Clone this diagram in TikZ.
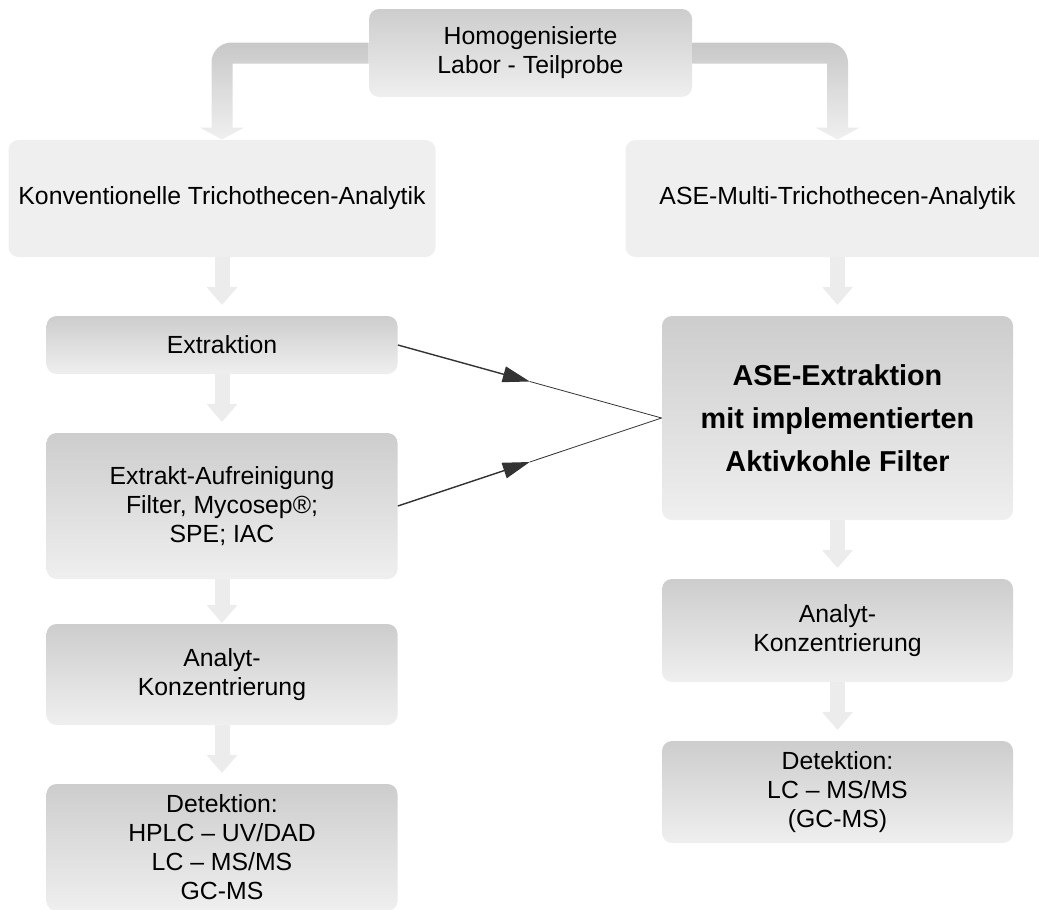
\documentclass[tikz,border=0pt]{standalone}
\usepackage{fontspec}
\setmainfont{Liberation Sans}
\usepackage{xcolor}
\usepackage{tikz}
\usetikzlibrary{arrows.meta,calc}

\definecolor{boxtop}{HTML}{CDCDCD}
\definecolor{boxbot}{HTML}{EFEFEF}
\definecolor{boxflat}{HTML}{EFEFEF}
\definecolor{flowgray}{HTML}{ECECEC}
\definecolor{bandtop}{HTML}{C8C8C8}
\definecolor{bandbot}{HTML}{F0F0F0}
\definecolor{linegray}{HTML}{333333}

\tikzset{
  stage/.style={rounded corners=5pt, top color=boxtop, bottom color=boxbot,
    align=center, inner sep=2pt, minimum width=175.5pt,
    font=\fontsize{12.4}{14.5}\selectfont},
  branch/.style={rounded corners=5pt, fill=boxflat, align=center, inner sep=2pt,
    minimum height=58.5pt, font=\fontsize{12.4}{14.5}\selectfont},
  flow/.style={line width=7.5pt, draw=flowgray,
    -{Triangle[width=15.5pt,length=9pt,line width=0.5pt,round]},
    shorten >=5.5pt},
  band/.style={top color=bandtop, bottom color=bandbot},
  feedin/.style={draw=linegray, line width=0.7pt,
    -{Triangle[width=8pt,length=13.5pt,fill=linegray]}},
  feedout/.style={draw=linegray, line width=0.4pt}
}

\begin{document}
\begin{tikzpicture}[x=0.5pt,y=-0.5pt]
\useasboundingbox (0,0) rectangle (1039,910);

% Sample at the top
\node[stage, minimum width=161.5pt, minimum height=44pt] (probe) at (530.5,53) {Homogenisierte\\Labor - Teilprobe};

% The two branches
\node[branch, minimum width=213.5pt] (konv) at (222,198.5) {Konventionelle Trichothecen-Analytik};
\node[branch, minimum width=212pt] (multi) at (837.5,198.5) {ASE-Multi-Trichothecen-Analytik};

% Conventional route
\node[stage, minimum height=29pt] (ext) at (222,345) {Extraktion};
\node[stage, minimum height=73pt] (clean) at (222,506) {Extrakt-Aufreinigung\\Filter, Mycosep®;\\SPE; IAC};
\node[stage, minimum height=50.5pt] (konzL) at (222,674.5) {Analyt-\\Konzentrierung};
\node[stage, minimum height=63.5pt] (detL) at (222,847.5) {Detektion:\\HPLC – UV/DAD\\LC – MS/MS\\GC-MS};

% ASE route
\node[stage, minimum height=102pt, font=\fontsize{14.4}{21.5}\selectfont\bfseries] (ase) at (837.5,418) {ASE-Extraktion\\mit implementierten\\Aktivkohle Filter};
\node[stage, minimum height=51.5pt] (konzR) at (837.5,630.5) {Analyt-\\Konzentrierung};
\node[stage, minimum height=51pt] (detR) at (837.5,792) {Detektion:\\LC – MS/MS\\(GC-MS)};

% Bent arrows from the sample
\shade[band] ($(probe.west)+(0,-10.5)$) [rounded corners=10pt] -| ($(konv.north)+(-10.5,-30)$)
  [sharp corners] -- ++(0,18) -- ++(-11.5,0) -- (konv.north) -- ++(22,-12) -- ++(-11.5,0)
  |- ($(probe.west)+(0,10.5)$) -- cycle;
\shade[band] ($(probe.east)+(0,-10.5)$) [rounded corners=10pt] -| ($(multi.north)+(10.5,-30)$)
  [sharp corners] -- ++(0,18) -- ++(11.5,0) -- (multi.north) -- ++(-22,-12) -- ++(11.5,0)
  |- ($(probe.east)+(0,10.5)$) -- cycle;

% Block arrows between the steps
\draw[flow] (konv.south) -- (ext.north);
\draw[flow] (ext.south) -- (clean.north);
\draw[flow, shorten >=0.5pt] (clean.south) -- (konzL.north);
\draw[flow] (konzL.south) -- (detL.north);
\draw[flow] (multi.south) -- (ase.north);
\draw[flow] (ase.south) -- (konzR.north);
\draw[flow] (konzR.south) -- (detR.north);

% Both steps merge into the ASE extraction
\coordinate (m1) at ($(ext.east)!0.5!(ase.west)$);
\coordinate (m2) at ($(clean.east)!0.5!(ase.west)$);
\draw[feedin] (ext.east) -- (m1);
\draw[feedout] (m1) -- (ase.west);
\draw[feedin] (clean.east) -- (m2);
\draw[feedout] (m2) -- (ase.west);
\end{tikzpicture}
\end{document}
